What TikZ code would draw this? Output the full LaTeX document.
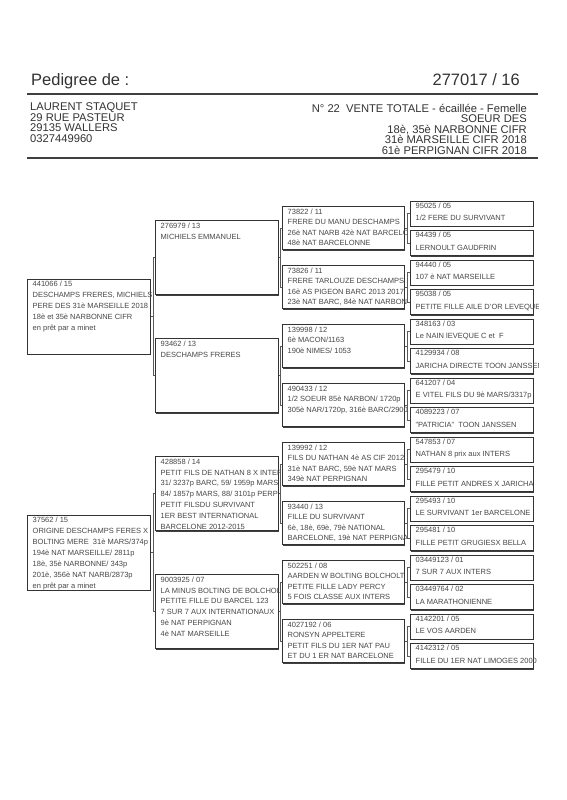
\documentclass[tikz,border=0pt]{standalone}
\usepackage{fontspec}
\setmainfont{Liberation Sans}
\usetikzlibrary{calc}
% #1 name, #2 x left, #3 y centre, #4 width, #5 height, #6 clip extra, #7 style, #8 text
\newcommand{\pedbox}[8]{%
  \fill[boxshadow] (#2+1,#3-#5/2+1) rectangle (#2+#4+1,#3+#5/2+1);
  \node[pbox, minimum width=#4pt, minimum height=#5pt, anchor=west] (#1) at (#2,#3) {};
  \begin{scope}
    \clip (#2-1,#3-#5/2-1) rectangle (#2+#4+#6,#3+#5/2+1);
    \node[ptext, #7, anchor=north west] at (#2+5.5,#3-#5/2+1.8) {#8};
  \end{scope}}
\newcommand{\pedlink}[3]{%
  \draw[conn] (#1.east) -- ($(#1.east)!0.5!(#1.east -| #2.west)$);
  \draw[conn] (#2.west) -| ($(#1.east)!0.5!(#1.east -| #2.west)$) |- (#3.west);}
\begin{document}
\begin{tikzpicture}[x=1pt,y=-1pt,
  pbox/.style={draw=black!80, line width=0.9pt, fill=white, inner sep=0pt},
  boxshadow/.style={fill=black!75},
  ptext/.style={inner sep=0pt, align=left, text=black!72},
  cA/.style={font=\fontsize{7.5}{10.9}\selectfont},
  cC/.style={font=\fontsize{7.5}{10.6}\selectfont},
  cD/.style={font=\fontsize{7.5}{12.2}\selectfont},
  conn/.style={draw=black!65, line width=0.7pt},
  rule/.style={draw=black!75, line width=1.1pt},
  big/.style={inner sep=0pt, text=black!80, font=\fontsize{16.5}{18}\selectfont},
  hdr/.style={inner sep=0pt, text=black!80, font=\fontsize{11.2}{12}\selectfont}
]
\fill[white] (0,0) rectangle (566,800);
\useasboundingbox (0,0) rectangle (566,800);

% header
\node[big, anchor=base west] (title) at (31,85) {Pedigree de :};
\node[big, anchor=base east] (ring) at (520,85) {277017 / 16};
\draw[rule] (27,94) -- (538,94);
\draw[rule] (27,158) -- (538,158);

\node[hdr, anchor=base west] (addr1) at (30,110.7) {LAURENT STAQUET};
\node[hdr, anchor=base west] (addr2) at (30,121.3) {29 RUE PASTEUR};
\node[hdr, anchor=base west] (addr3) at (30,131.9) {29135 WALLERS};
\node[hdr, anchor=base west] (addr4) at (30,142.5) {0327449960};

\node[hdr, anchor=base east] (info1) at (527,112) {N° 22\hspace{3pt} VENTE TOTALE - écaillée - Femelle};
\node[hdr, anchor=base east] (info2) at (527,122.6) {SOEUR DES\hspace{3pt}};
\node[hdr, anchor=base east] (info3) at (527,133.2) {18è, 35è NARBONNE CIFR\hspace{3pt}};
\node[hdr, anchor=base east] (info4) at (527,143.8) {31è MARSEILLE CIFR 2018};
\node[hdr, anchor=base east] (info5) at (527,154.4) {61è PERPIGNAN CIFR 2018};

% column 1
\pedbox{a1}{27}{316.75}{123}{75}{3}{cA}{441066 / 15\\DESCHAMPS FRERES, MICHIELS\\PERE DES 31è MARSEILLE 2018\\18è et 35è NARBONNE CIFR\\en prêt par a minet}
\pedbox{a2}{27}{552.75}{123}{75}{3}{cA}{37562 / 15\\ORIGINE DESCHAMPS FERES X\\BOLTING MERE\ \ 31è MARS/374p\\194è NAT MARSEILLE/ 2811p\\18è, 35è NARBONNE/ 343p\\201è, 356è NAT NARB/2873p\\en prêt par a minet}

% column 2
\pedbox{b1}{155}{257.75}{123}{74}{2}{cA}{276979 / 13\\MICHIELS EMMANUEL}
\pedbox{b2}{155}{375.75}{123}{74}{2}{cA}{93462 / 13\\DESCHAMPS FRERES}
\pedbox{b3}{155}{493.75}{123}{74}{2}{cA}{428858 / 14\\PETIT FILS DE NATHAN 8 X INTERS\\31/ 3237p BARC, 59/ 1959p MARS\\84/ 1857p MARS, 88/ 3101p PERP\\PETIT FILSDU SURVIVANT\\1ER BEST INTERNATIONAL\\BARCELONE 2012-2015}
\pedbox{b4}{155}{611.75}{123}{74}{2}{cA}{9003925 / 07\\LA MINUS BOLTING DE BOLCHOLT\\PETITE FILLE DU BARCEL 123\\7 SUR 7 AUX INTERNATIONAUX\\9è NAT PERPIGNAN\\4è NAT MARSEILLE}

% column 3
\pedbox{c1}{282}{228.25}{122}{43}{2}{cC}{73822 / 11\\FRERE DU MANU DESCHAMPS\\26è NAT NARB 42è NAT BARCELONE\\48è NAT BARCELONNE}
\pedbox{c2}{282}{287.25}{122}{43}{2}{cC}{73826 / 11\\FRERE TARLOUZE DESCHAMPS\\16è AS PIGEON BARC 2013 2017\\23è NAT BARC, 84è NAT NARBONNE}
\pedbox{c3}{282}{346.25}{122}{43}{2}{cC}{139998 / 12\\6è MACON/1163\\190è NIMES/ 1053}
\pedbox{c4}{282}{405.25}{122}{43}{2}{cC}{490433 / 12\\1/2 SOEUR 85è NARBON/ 1720p\\305è NAR/1720p, 316è BARC/2900p}
\pedbox{c5}{282}{464.25}{122}{43}{2}{cC}{139992 / 12\\FILS DU NATHAN 4è AS CIF 2012\\31è NAT BARC, 59è NAT MARS\\349è NAT PERPIGNAN}
\pedbox{c6}{282}{523.25}{122}{43}{2}{cC}{93440 / 13\\FILLE DU SURVIVANT\\6è, 18è, 69è, 79è NATIONAL\\BARCELONE, 19è NAT PERPIGNAN}
\pedbox{c7}{282}{582.25}{122}{43}{2}{cC}{502251 / 08\\AARDEN W BOLTING BOLCHOLT\\PETITE FILLE LADY PERCY\\5 FOIS CLASSE AUX INTERS}
\pedbox{c8}{282}{641.25}{122}{43}{2}{cC}{4027192 / 06\\RONSYN APPELTERE\\PETIT FILS DU 1ER NAT PAU\\ET DU 1 ER NAT BARCELONE}

% column 4
\pedbox{d1}{410}{213.5}{123}{25}{5}{cD}{95025 / 05\\1/2 FERE DU SURVIVANT}
\pedbox{d2}{410}{243}{123}{25}{5}{cD}{94439 / 05\\LERNOULT GAUDFRIN}
\pedbox{d3}{410}{272.5}{123}{25}{5}{cD}{94440 / 05\\107 è NAT MARSEILLE}
\pedbox{d4}{410}{302}{123}{25}{5}{cD}{95038 / 05\\PETITE FILLE AILE D'OR LEVEQUE}
\pedbox{d5}{410}{331.5}{123}{25}{5}{cD}{348163 / 03\\Le NAIN lEVEQUE C et\ \ F}
\pedbox{d6}{410}{361}{123}{25}{5}{cD}{4129934 / 08\\JARICHA DIRECTE TOON JANSSEN}
\pedbox{d7}{410}{390.5}{123}{25}{5}{cD}{641207 / 04\\E VITEL FILS DU 9è MARS/3317p}
\pedbox{d8}{410}{420}{123}{25}{5}{cD}{4089223 / 07\\"PATRICIA"\ \ TOON JANSSEN}
\pedbox{d9}{410}{449.5}{123}{25}{5}{cD}{547853 / 07\\NATHAN 8 prix aux INTERS}
\pedbox{d10}{410}{479}{123}{25}{5}{cD}{295479 / 10\\FILLE PETIT ANDRES X JARICHA}
\pedbox{d11}{410}{508.5}{123}{25}{5}{cD}{295493 / 10\\LE SURVIVANT 1er BARCELONE}
\pedbox{d12}{410}{538}{123}{25}{5}{cD}{295481 / 10\\FILLE PETIT GRUGIESX BELLA}
\pedbox{d13}{410}{567.5}{123}{25}{5}{cD}{03449123 / 01\\7 SUR 7 AUX INTERS}
\pedbox{d14}{410}{597}{123}{25}{5}{cD}{03449764 / 02\\LA MARATHONIENNE}
\pedbox{d15}{410}{626.5}{123}{25}{5}{cD}{4142201 / 05\\LE VOS AARDEN}
\pedbox{d16}{410}{656}{123}{25}{5}{cD}{4142312 / 05\\FILLE DU 1ER NAT LIMOGES 2000}

% connectors
\pedlink{a1}{b1}{b2}
\pedlink{a2}{b3}{b4}
\pedlink{b1}{c1}{c2}
\pedlink{b2}{c3}{c4}
\pedlink{b3}{c5}{c6}
\pedlink{b4}{c7}{c8}
\pedlink{c1}{d1}{d2}
\pedlink{c2}{d3}{d4}
\pedlink{c3}{d5}{d6}
\pedlink{c4}{d7}{d8}
\pedlink{c5}{d9}{d10}
\pedlink{c6}{d11}{d12}
\pedlink{c7}{d13}{d14}
\pedlink{c8}{d15}{d16}
\end{tikzpicture}
\end{document}
